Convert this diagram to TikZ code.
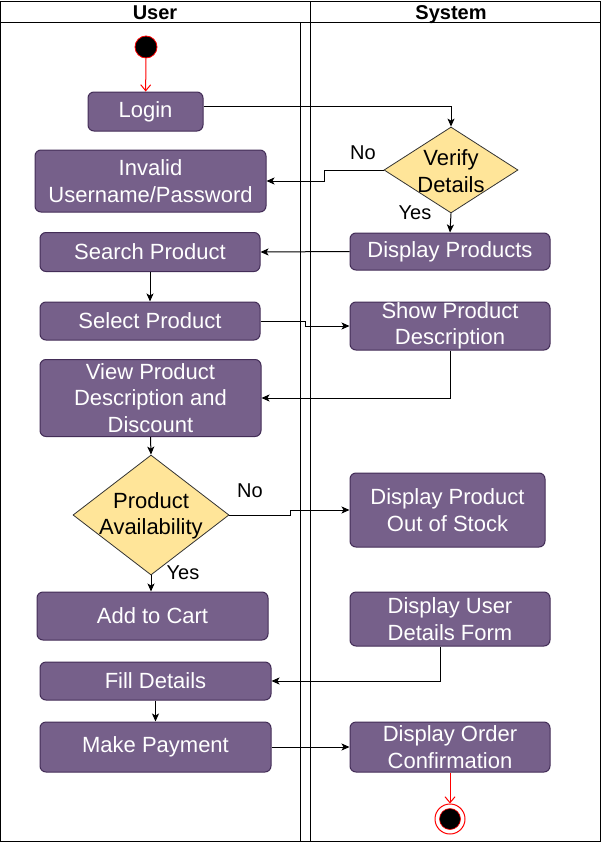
\documentclass[tikz,border=0pt]{standalone}
\usepackage{fontspec}
\setmainfont{Liberation Sans}
\usetikzlibrary{arrows.meta,shapes.geometric}
\definecolor{actfill}{HTML}{76608A}
\definecolor{actline}{HTML}{432D57}
\definecolor{decfill}{HTML}{FFE599}
\begin{document}
\begin{tikzpicture}[x=1pt,y=-1pt,
  act/.style={draw=actline, fill=actfill, rounded corners=6pt, text=white, align=center,
    inner sep=0pt, line width=1pt, font=\fontsize{22}{26.5}\selectfont},
  dec/.style={diamond, draw=black!80, fill=decfill, inner sep=0pt, line width=0.8pt},
  dectext/.style={align=center, inner sep=0pt, font=\fontsize{22}{26.5}\selectfont},
  lbl/.style={inner sep=0pt, font=\fontsize{20}{24}\selectfont},
  head/.style={inner sep=0pt, anchor=base, font=\fontsize{20}{24}\selectfont\bfseries},
  flow/.style={draw=black, line width=1pt, -{Stealth[length=8pt,width=7pt,inset=2pt]}},
  redflow/.style={draw=red, line width=1pt, -{Straight Barb[length=6pt,width=10pt]}},
  lane/.style={draw=black, line width=1pt}
]
\useasboundingbox (0,0) rectangle (602,843);
% swimlanes
\draw[lane] (0.5,2) rectangle (600.5,841.5);
\draw[lane] (0.5,23) -- (600.5,23);
\draw[lane] (310,2) -- (310,841.5);
\draw[lane] (300,23) -- (300,841.5);
\node[head] (huser) at (155,19.5) {User};
\node[head] (hsys) at (451,19.5) {System};

% start
\node[circle, draw=red, fill=black, minimum size=22pt, inner sep=0pt, line width=0.8pt] (start) at (146,47) {};

% user lane
\node[act, minimum width=115pt, minimum height=39pt] (login) at (145.5,111.5) {Login};
\node[act, minimum width=231pt, minimum height=62pt] (invalid) at (150.5,181) {Invalid\\Username/Password};
\node[act, minimum width=220pt, minimum height=39pt] (search) at (150,252) {Search Product};
\node[act, minimum width=220pt, minimum height=38pt] (select) at (150,321) {Select Product};
\node[act, minimum width=221pt, minimum height=77pt] (view) at (150.5,398) {View Product\\Description and\\Discount};
\node[dec, minimum width=156pt, minimum height=120pt] (avail) at (151,515) {};
\node[dectext] (availtext) at (151,516) {Product\\Availability};
\node[act, minimum width=231pt, minimum height=48pt] (cart) at (152.5,616) {Add to Cart};
\node[act, minimum width=231pt, minimum height=38pt] (fill) at (155.5,681) {Fill Details};
\node[act, minimum width=231pt, minimum height=50pt] (pay) at (155.5,747) {Make Payment};

% system lane
\node[dec, minimum width=134pt, minimum height=86pt] (verify) at (451,170) {};
\node[dectext] (verifytext) at (451,171) {Verify\\Details};
\node[act, minimum width=200pt, minimum height=37pt] (dprod) at (450,251.5) {Display Products};
\node[act, minimum width=200pt, minimum height=48pt] (show) at (450,326) {Show Product\\Description};
\node[act, minimum width=195pt, minimum height=74pt] (oos) at (447.5,510) {Display Product\\Out of Stock};
\node[act, minimum width=200pt, minimum height=54pt] (uform) at (450,619) {Display User\\Details Form};
\node[act, minimum width=200pt, minimum height=50pt] (confirm) at (450,747) {Display Order\\Confirmation};

% end
\node[circle, draw=red, fill=white, minimum size=30pt, inner sep=0pt, line width=1pt] (end) at (450,819) {};
\node[circle, draw=red, fill=black, minimum size=21pt, inner sep=0pt, line width=0.6pt] (endin) at (end) {};

% labels
\node[lbl] (no1) at (363,153) {No};
\node[lbl] (yes1) at (415,212.5) {Yes};
\node[lbl] (no2) at (250,491) {No};
\node[lbl] (yes2) at (183,573) {Yes};

% connectors
\draw[redflow] (start) -- (login);
\draw[flow] ([yshift=5.5pt]login.east) -| (verify.north);
\draw[flow] (verify.west) -- ++(-59,0) |- (invalid.east);
\draw[flow] (verify.south) -- (dprod.north);
\draw[flow] (dprod.west) -- (search.east);
\draw[flow] (search.south) -- (select.north);
\draw[flow] (select.east) -- ++(45,0) |- (show.west);
\draw[flow] (show.south) |- (view.east);
\draw[flow] (view.south) -- (avail.north);
\draw[flow] (avail.east) -- ++(61,0) |- (oos.west);
\draw[flow] (avail.south) -- (avail.south |- cart.north);
\draw[flow] ([xshift=-10pt]uform.south) |- (fill.east);
\draw[flow] (fill.south) -- (pay.north);
\draw[flow] (pay.east) -- (confirm.west);
\draw[redflow] (confirm.south) -- (end.north);
\end{tikzpicture}
\end{document}
